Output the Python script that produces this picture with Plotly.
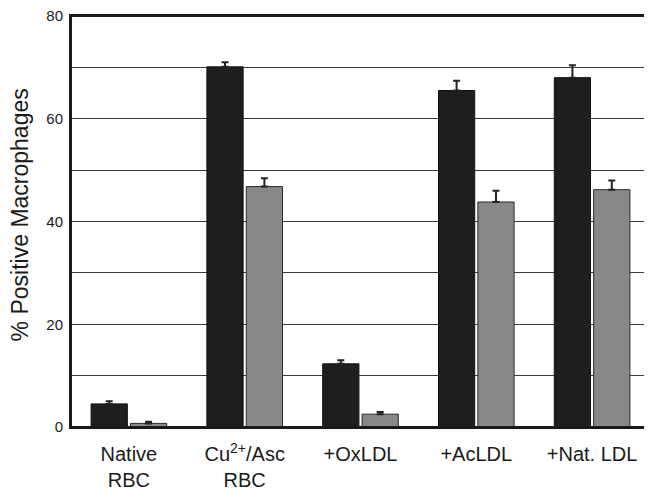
import plotly.graph_objects as go

categories = ["Native<br>RBC", "Cu<sup>2+</sup>/Asc<br>RBC", "+OxLDL", "+AcLDL", "+Nat. LDL"]
dark_values = [4.5, 70.1, 12.3, 65.5, 68.0]
dark_errors = [0.5, 0.9, 0.7, 1.9, 2.4]
gray_values = [0.7, 46.8, 2.5, 43.8, 46.2]
gray_errors = [0.3, 1.6, 0.4, 2.2, 1.8]
y_ticks = [0, 20, 40, 60, 80]

font_family = "Liberation Sans, Arial, sans-serif"

fig = go.Figure()
fig.add_trace(go.Bar(
    x=categories, y=dark_values,
    marker=dict(color="#1e1e1e", line=dict(color="#111111", width=1)),
    error_y=dict(type="data", array=dark_errors, arrayminus=[0]*len(dark_errors),
                 symmetric=False, color="#222222", thickness=2, width=3.5),
    showlegend=False,
))
fig.add_trace(go.Bar(
    x=categories, y=gray_values,
    marker=dict(color="#888888", line=dict(color="#2a2a2a", width=1)),
    error_y=dict(type="data", array=gray_errors, arrayminus=[0]*len(gray_errors),
                 symmetric=False, color="#222222", thickness=2, width=3.5),
    showlegend=False,
))

# page body has an 8px margin; size the figure so the plot sits where the reference has it
fig.update_layout(
    width=644, height=485,
    margin=dict(l=63, r=2, t=8, b=66, autoexpand=False),
    paper_bgcolor="white", plot_bgcolor="white",
    barmode="group", bargap=0.32, bargroupgap=0.08,
    font=dict(family=font_family, color="#1a1a1a"),
    xaxis=dict(
        showline=True, linecolor="#1a1a1a", linewidth=2, mirror=True,
        ticks="", tickfont=dict(size=20, family=font_family, color="#1a1a1a"),
        ticklabelstandoff=8, automargin=False, ticklabeloverflow="allow",
    ),
    yaxis=dict(
        range=[0, 80], tickvals=y_ticks, ticktext=[str(v) for v in y_ticks],
        showline=True, linecolor="#1a1a1a", linewidth=2, mirror=True,
        showgrid=True, gridcolor="#3a3a3a", gridwidth=1,
        minor=dict(dtick=10, showgrid=True, gridcolor="#3a3a3a", gridwidth=1),
        zeroline=False, ticks="",
        tickfont=dict(size=15, family=font_family, color="#1a1a1a"),
        ticklabelstandoff=3, automargin=False, ticklabeloverflow="allow",
    ),
    shapes=[dict(type="rect", xref="paper", yref="paper", x0=0, y0=0, x1=1, y1=1,
                 line=dict(color="#1a1a1a", width=2), layer="above")],
    annotations=[dict(
        text="% Positive Macrophages", textangle=-90,
        xref="paper", yref="paper", x=-0.088, y=0.515,
        xanchor="center", yanchor="middle", showarrow=False,
        font=dict(size=23, family=font_family, color="#1a1a1a"),
    )],
)

fig.write_html("out.html")
